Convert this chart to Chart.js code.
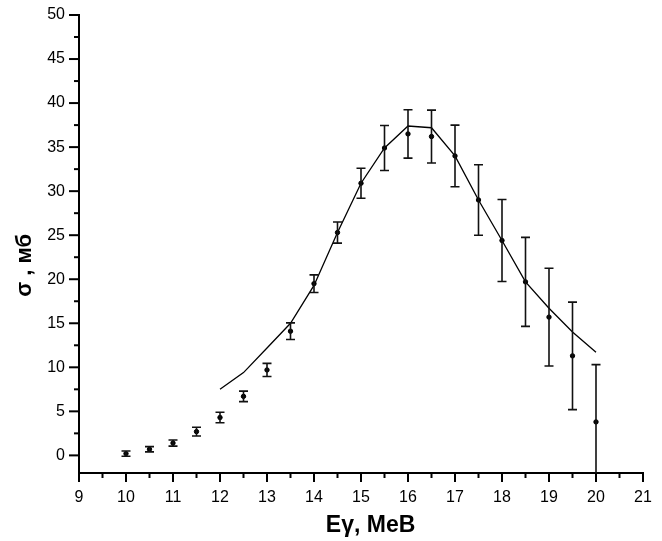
<!DOCTYPE html>
<html>
<head>
<meta charset="utf-8">
<script src="https://cdn.jsdelivr.net/npm/chart.js@4.4.1/dist/chart.umd.min.js"></script>
<style>
  body { margin: 0; background: #fff; }
  #wrap { width: 662px; height: 541px; }
</style>
</head>
<body>
<div id="wrap"><canvas id="cs-chart"></canvas></div>
<script>
// measured points (energy, cross section, error)
const energy = [10, 10.5, 11, 11.5, 12, 12.5, 13, 13.5, 14, 14.5, 15, 15.5, 16, 16.5, 17, 17.5, 18, 18.5, 19, 19.5, 20];
const sigma = [0.2, 0.7, 1.4, 2.7, 4.3, 6.7, 9.7, 14.1, 19.5, 25.3, 30.9, 34.9, 36.5, 36.2, 34.0, 29.0, 24.4, 19.7, 15.7, 11.3, 3.8];
const sigmaErr = [0.3, 0.3, 0.35, 0.5, 0.6, 0.6, 0.75, 0.95, 1.0, 1.2, 1.7, 2.55, 2.75, 3.0, 3.5, 4.0, 4.65, 5.05, 5.55, 6.1, 6.5];

// calculated curve
const fitEnergy = [12, 12.5, 13, 13.5, 14, 14.5, 15, 15.5, 16, 16.5, 17, 17.5, 18, 18.5, 19, 19.5, 20];
const fitSigma = [7.5, 9.4, 12.2, 15.0, 19.3, 25.3, 30.9, 34.9, 37.4, 37.2, 34.0, 29.0, 24.4, 19.7, 16.7, 14.0, 11.7];

// tick labels
const xTicks = [9, 10, 11, 12, 13, 14, 15, 16, 17, 18, 19, 20, 21];
const yTicks = [0, 5, 10, 15, 20, 25, 30, 35, 40, 45, 50];

const FONT = "'Liberation Sans', Arial, sans-serif";

// error bars, drawn through the scales
const errorBars = {
  id: 'errorBars',
  afterDatasetsDraw(chart) {
    const { ctx, chartArea, scales: { x, y } } = chart;
    ctx.save();
    ctx.beginPath();
    ctx.rect(chartArea.left, chartArea.top, chartArea.right - chartArea.left, chartArea.bottom - chartArea.top);
    ctx.clip();
    ctx.strokeStyle = '#111';
    ctx.lineWidth = 1.6;
    energy.forEach((e, i) => {
      const px = x.getPixelForValue(e);
      const top = y.getPixelForValue(sigma[i] + sigmaErr[i]);
      const bot = y.getPixelForValue(sigma[i] - sigmaErr[i]);
      ctx.beginPath();
      ctx.moveTo(px, top); ctx.lineTo(px, bot);
      ctx.moveTo(px - 4.5, top); ctx.lineTo(px + 4.5, top);
      ctx.moveTo(px - 4.5, bot); ctx.lineTo(px + 4.5, bot);
      ctx.stroke();
    });
    ctx.restore();
  }
};

// major + minor outward ticks
const axisTicks = {
  id: 'axisTicks',
  afterDraw(chart) {
    const { ctx, chartArea, scales: { x, y } } = chart;
    ctx.save();
    ctx.strokeStyle = '#000';
    ctx.lineWidth = 2;
    for (let v = 9; v <= 21; v += 0.5) {
      const px = x.getPixelForValue(v);
      const len = Number.isInteger(v) ? 9 : 5;
      ctx.beginPath();
      ctx.moveTo(px, chartArea.bottom);
      ctx.lineTo(px, chartArea.bottom + len);
      ctx.stroke();
    }
    for (let v = 0; v <= 50; v += 2.5) {
      const py = y.getPixelForValue(v);
      const len = v % 5 === 0 ? 10 : 5;
      ctx.beginPath();
      ctx.moveTo(chartArea.left, py);
      ctx.lineTo(chartArea.left - len, py);
      ctx.stroke();
    }
    ctx.restore();
  }
};

const ctx = document.getElementById('cs-chart');

new Chart(ctx, {
  type: 'scatter',
  data: {
    datasets: [{
      label: 'fit',
      type: 'line',
      data: fitEnergy.map((e, i) => ({ x: e, y: fitSigma[i] })),
      borderColor: '#000',
      borderWidth: 1.3,
      pointRadius: 0,
      tension: 0,
      fill: false
    }, {
      label: 'exp',
      data: energy.map((e, i) => ({ x: e, y: sigma[i] })),
      backgroundColor: '#000',
      borderColor: '#000',
      pointRadius: 2.2,
      pointHoverRadius: 2.2
    }]
  },
  options: {
    responsive: true,
    maintainAspectRatio: false,
    animation: false,
    layout: { padding: { left: 0, right: 19, top: 15, bottom: 0 } },
    plugins: { legend: { display: false }, tooltip: { enabled: false } },
    scales: {
      x: {
        type: 'linear',
        min: 9,
        max: 21,
        afterBuildTicks: (scale) => { scale.ticks = xTicks.map(v => ({ value: v })); },
        afterFit: (scale) => { scale.height = 68; scale.paddingLeft = 0; scale.paddingRight = 0; },
        grid: { drawOnChartArea: false, drawTicks: false },
        border: { display: true, color: '#000', width: 2 },
        ticks: { color: '#000', padding: 15, maxRotation: 0, font: { family: FONT, size: 16 } },
        title: { display: true, text: '\u00a0\u00a0\u00a0Eγ, MeB', color: '#000', padding: { top: 2, bottom: 2 }, font: { family: FONT, size: 23, weight: 'bold' } }
      },
      y: {
        min: -2,
        max: 50,
        afterBuildTicks: (scale) => { scale.ticks = yTicks.map(v => ({ value: v })); },
        afterFit: (scale) => { scale.width = 79; scale.paddingTop = 0; scale.paddingBottom = 0; },
        grid: { drawOnChartArea: false, drawTicks: false },
        border: { display: true, color: '#000', width: 2 },
        ticks: { color: '#000', padding: 14, font: { family: FONT, size: 16 } },
        title: { display: true, text: 'σ , мб\u00a0\u00a0\u00a0\u00a0\u00a0\u00a0\u00a0', color: '#000', padding: { top: 12, bottom: 0 }, font: { family: FONT, size: 22, weight: 'bold' } }
      }
    }
  },
  plugins: [errorBars, axisTicks]
});
</script>
</body>
</html>
